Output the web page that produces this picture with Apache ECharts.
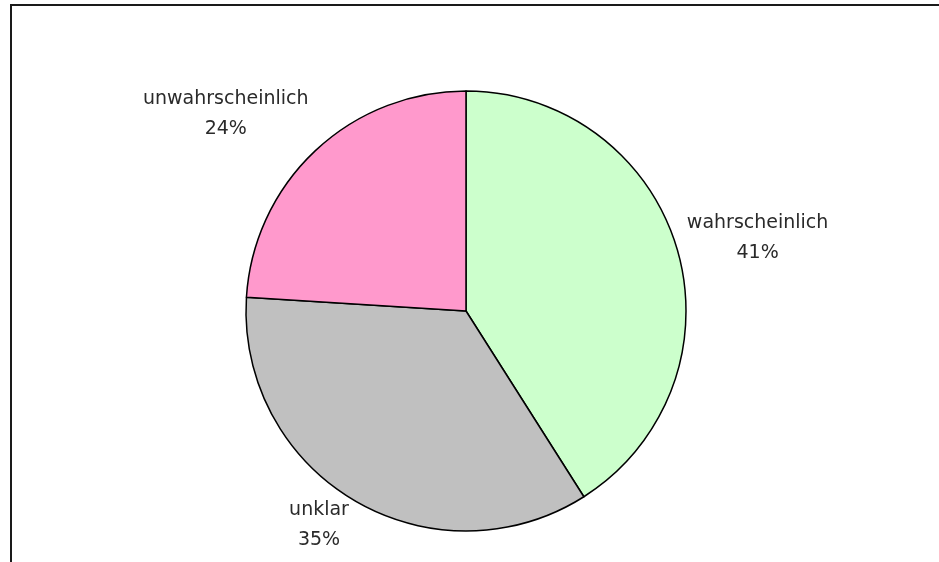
<!DOCTYPE html>
<html>
<head>
<meta charset="utf-8">
<title>Einschätzung</title>
<script src="https://cdn.jsdelivr.net/npm/echarts@6/dist/echarts.min.js"></script>
<style>
  html, body { margin: 0; padding: 0; background: #ffffff; }
  #chart { width: 939px; height: 562px; }
</style>
</head>
<body>
<div id="chart"></div>
<script>
// Slice names, shares in percent and fill colours
const categories = ['wahrscheinlich', 'unklar', 'unwahrscheinlich'];
const shares = [41, 35, 24];
const sliceColors = ['#CCFFCC', '#C0C0C0', '#FF99CC'];

const PIE_CENTER = [466, 311];
const PIE_RADIUS = 220;
const LABEL_GAP = 10;

const total = shares.reduce((s, v) => s + v, 0);

// Mid-angle of a slice, measured clockwise from 12 o'clock (radians)
function midAngle(i) {
  let before = 0;
  for (let k = 0; k < i; k++) before += shares[k];
  return (before + shares[i] / 2) / total * Math.PI * 2;
}

const chart = echarts.init(document.getElementById('chart'), null, { renderer: 'canvas' });

chart.setOption({
  backgroundColor: '#ffffff',
  animation: false,
  graphic: [{
    type: 'polyline',
    shape: { points: [[11, 562], [11, 5], [939, 5]] },
    style: { stroke: '#1a1a1a', lineWidth: 2, fill: null },
    silent: true
  }],
  series: [{
    type: 'pie',
    center: PIE_CENTER,
    radius: PIE_RADIUS,
    startAngle: 90,
    clockwise: true,
    avoidLabelOverlap: false,
    itemStyle: { borderColor: '#000000', borderWidth: 1.5 },
    label: {
      show: true,
      position: 'outside',
      formatter: '{b}\n{c}%',
      fontFamily: 'DejaVu Sans',
      fontSize: 19,
      lineHeight: 30,
      color: '#2a2a2a'
    },
    labelLine: { show: false },
    // Labels sit just outside the rim, their nearest side facing the slice
    labelLayout: function (p) {
      const a = midAngle(p.dataIndex);
      const s = Math.sin(a), c = Math.cos(a);
      const px = PIE_CENTER[0] + (PIE_RADIUS + LABEL_GAP) * s;
      const py = PIE_CENTER[1] - (PIE_RADIUS + LABEL_GAP) * c;
      const w = p.labelRect.width, h = p.labelRect.height;
      return {
        x: px + Math.sign(s) * w / 2,
        y: py - c * h / 2 + 4 - 16 * Math.abs(c),
        align: 'center',
        verticalAlign: 'middle'
      };
    },
    emphasis: { disabled: true },
    data: categories.map((name, i) => ({
      name: name,
      value: shares[i],
      itemStyle: { color: sliceColors[i] }
    }))
  }]
});
</script>
</body>
</html>
